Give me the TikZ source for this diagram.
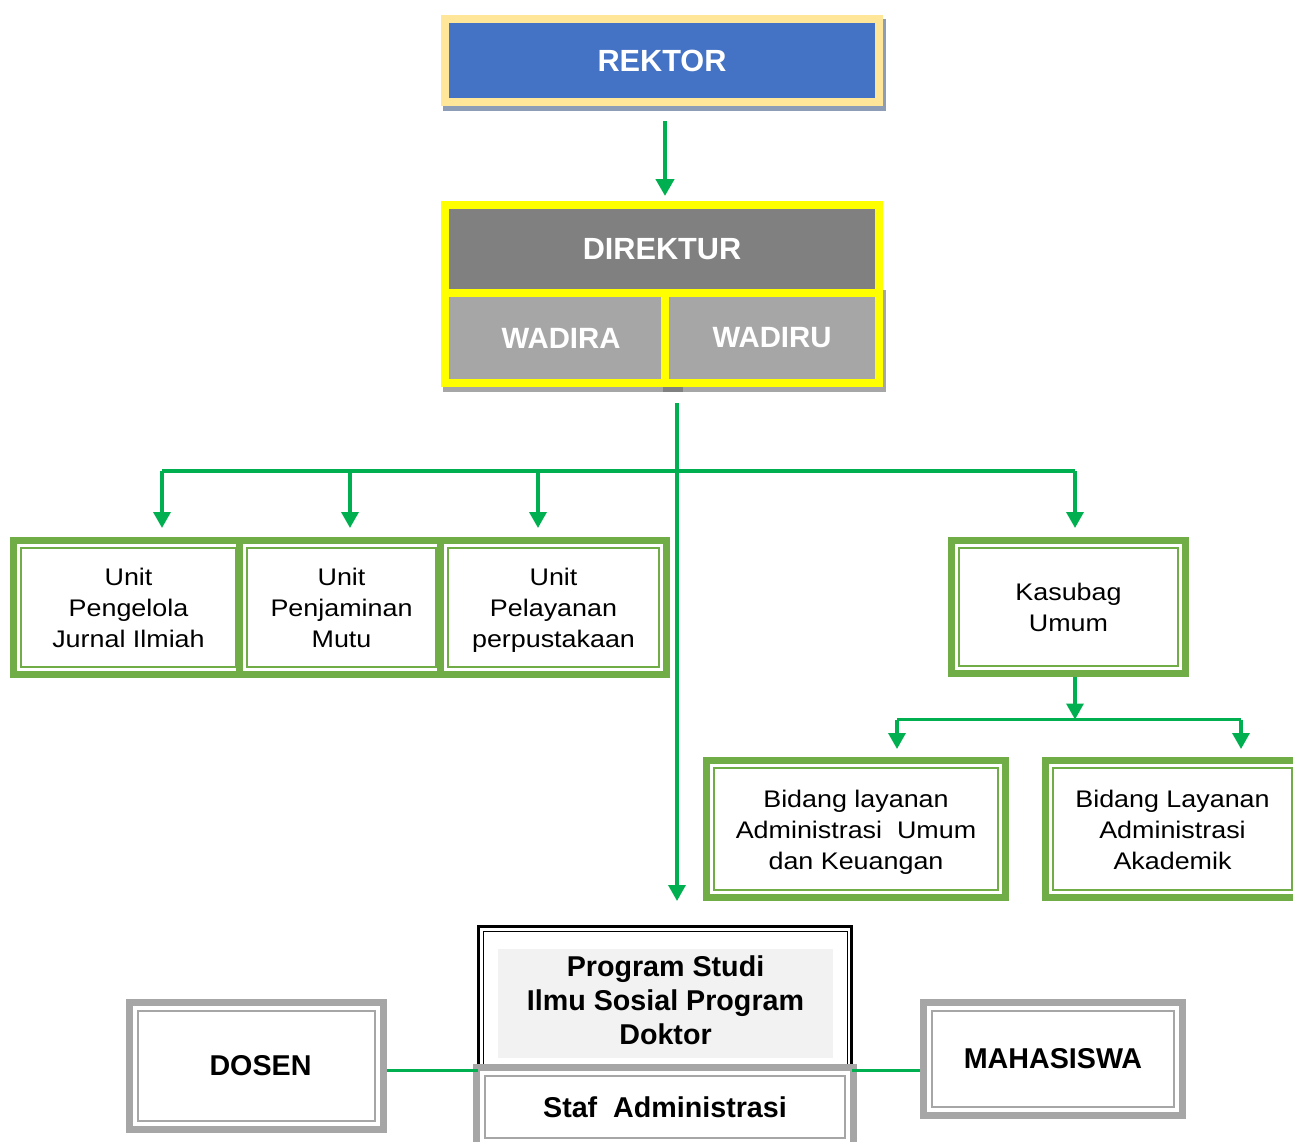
\documentclass[tikz,border=0pt]{standalone}
\usepackage{fontspec}
\setmainfont{Liberation Sans}
\newfontfamily\widesans[FakeStretch=1.12]{Liberation Sans}
\usetikzlibrary{arrows.meta}
\definecolor{cBeige}{HTML}{FFE699}
\definecolor{cBlue}{HTML}{4472C4}
\definecolor{cShadow}{HTML}{8C9DB5}
\definecolor{cYellow}{HTML}{FFFF00}
\definecolor{cDGray}{HTML}{808080}
\definecolor{cLGray}{HTML}{A6A6A6}
\definecolor{cLine}{HTML}{00B050}
\definecolor{cBox}{HTML}{70AD47}
\definecolor{cFill}{HTML}{F2F2F2}
\newcommand\myinframe[4]{\draw[#3, line width=#4] ([shift={(#2,#2)}]#1.north west) rectangle ([shift={(-#2,-#2)}]#1.south east);}
\newcommand\mytopstrut{\rule{0pt}{20.8pt}}
\begin{document}
\begin{tikzpicture}[x=0.75pt,y=-0.75pt,
  whitebig/.style={text=white, inner sep=0pt, font=\bfseries\fontsize{23}{27}\selectfont},
  whitemid/.style={text=white, inner sep=0pt, font=\bfseries\fontsize{22}{26}\selectfont},
  gbox/.style={draw=cBox, line width=5.25pt, fill=white, inner sep=0pt, align=center,
     font=\widesans\fontsize{18}{23.25}\selectfont},
  graybox/.style={draw=cLGray, line width=5.25pt, fill=white, inner sep=0pt, align=center,
     font=\bfseries\fontsize{21.5}{25.5}\selectfont},
  conn/.style={draw=cLine, line width=2.6pt},
  arr/.style={conn, -{Triangle[width=12.75pt,length=12pt]}},
  bigarr/.style={draw=cLine, line width=3.6pt, -{Triangle[width=13.5pt,length=12.75pt]}}
]
\useasboundingbox (0,0) rectangle (1293,1142);
\fill[white] (0,0) rectangle (1293,1142);
\clip (0,0) rectangle (1293,1142);

% REKTOR
\fill[cShadow] (443,19) rectangle (886,111);
\node[whitebig, draw=cBeige, fill=cBlue, line width=6pt, minimum width=325.5pt, minimum height=62.25pt] (rektor) at (662,60.5) {REKTOR};

% DIREKTUR group
\fill[cLGray] (443,290) rectangle (886,392);
\fill[cDGray] (663,387) rectangle (683,392);
\node[draw=cYellow, fill=cYellow, line width=6pt, minimum width=325.5pt, minimum height=133.5pt, inner sep=0pt] (frame) at (662,294) {};
\node[whitebig, fill=cDGray, minimum width=319.5pt, minimum height=60pt] (direktur) at (662,249) {DIREKTUR};
\node[whitemid, fill=cLGray, minimum width=159pt, minimum height=61.5pt] (wadira) at (555,338) {\hspace*{9pt}WADIRA};
\node[whitemid, fill=cLGray, minimum width=154.5pt, minimum height=61.5pt] (wadiru) at (772,338) {WADIRU};

\draw[bigarr, shorten <=11.25pt, shorten >=3.75pt] ([xshift=2.25pt]rektor.south) -- ([xshift=2.25pt]rektor.south |- frame.north);

% units
\node[gbox, minimum width=172.5pt, minimum height=100.5pt] (unit1) at (128.5,607.5) {\mytopstrut Unit\\Pengelola\\Jurnal Ilmiah\strut};
\myinframe{unit1}{11}{cBox}{1.5pt}
\node[gbox, minimum width=153pt, minimum height=100.5pt] (unit2) at (341.5,607.5) {\mytopstrut Unit\\Penjaminan\\Mutu\strut};
\myinframe{unit2}{11}{cBox}{1.5pt}
\node[gbox, minimum width=169.5pt, minimum height=100.5pt] (unit3) at (553.5,607.5) {\mytopstrut Unit\\Pelayanan\\perpustakaan\strut};
\myinframe{unit3}{11}{cBox}{1.5pt}
\node[gbox, minimum width=175.5pt, minimum height=99.75pt] (kasubag) at (1068.5,607) {\mytopstrut Kasubag\\Umum\strut};
\myinframe{kasubag}{11}{cBox}{1.5pt}
\node[gbox, minimum width=224.25pt, minimum height=102.75pt] (bid1) at (856,829) {\mytopstrut Bidang layanan\\Administrasi~~Umum\\dan Keuangan\strut};
\myinframe{bid1}{11}{cBox}{1.5pt}
\node[gbox, minimum width=190.5pt, minimum height=102.75pt] (bid2) at (1172.5,829) {\mytopstrut Bidang Layanan\\Administrasi\\Akademik\strut};
\myinframe{bid2}{11}{cBox}{1.5pt}

% Program studi
\node[draw=black, line width=2.25pt, fill=white, minimum width=279.75pt, minimum height=106.5pt, inner sep=0pt] (prog) at (665,997.5) {};
\myinframe{prog}{6}{black}{0.75pt}
\node[fill=cFill, minimum width=251.25pt, minimum height=81.75pt, inner sep=0pt, align=center,
  font=\bfseries\fontsize{21.5}{25.5}\selectfont] (progtxt) at (665.5,1003.5) {\strut Program Studi\\Ilmu Sosial Program\\Doktor\strut};
\node[graybox, minimum width=282.75pt, minimum height=59.25pt] (staf) at (665,1107) {Staf~~Administrasi};
\myinframe{staf}{12}{cLGray}{1.5pt}
\node[graybox, minimum width=190.5pt, minimum height=95.25pt] (dosen) at (256.5,1066) {\hspace*{6pt}DOSEN};
\myinframe{dosen}{12}{cLGray}{1.5pt}
\node[graybox, minimum width=194.25pt, minimum height=84.75pt] (mhs) at (1053,1059) {MAHASISWA};
\myinframe{mhs}{12}{cLGray}{1.5pt}

% connectors
\coordinate (vt) at (677,403);
\draw[arr, shorten >=18pt] (vt) -- (vt |- prog.north);
\coordinate (hL) at (162,471);
\coordinate (h2) at (350,471);
\coordinate (h3) at (538,471);
\coordinate (hR) at (1075,471);
\draw[conn] (hL) -- (hR);
\draw[arr, shorten >=6.75pt] (hL) -- (hL |- unit1.north);
\draw[arr, shorten >=6.75pt] (h2) -- (h2 |- unit2.north);
\draw[arr, shorten >=6.75pt] (h3) -- (h3 |- unit3.north);
\draw[arr, shorten >=6.75pt] (hR) -- (hR |- kasubag.north);
\coordinate (kb) at (1075,719.5);
\coordinate (kL) at (897,719.5);
\coordinate (kR) at (1241,719.5);
\draw[arr] (kasubag.south -| kb) -- (kb);
\draw[conn] (kL) -- (kR);
\draw[arr, shorten >=6pt] (kL) -- (kL |- bid1.north);
\draw[arr, shorten >=6pt] (kR) -- (kR |- bid2.north);
\coordinate (ly) at (0,1070.5);
\draw[draw=cLine, line width=2.25pt, shorten >=-3.75pt] (dosen.east |- ly) -- (staf.west |- ly);
\draw[draw=cLine, line width=2.25pt, shorten <=-3.75pt] (staf.east |- ly) -- (mhs.west |- ly);
\end{tikzpicture}
\end{document}
